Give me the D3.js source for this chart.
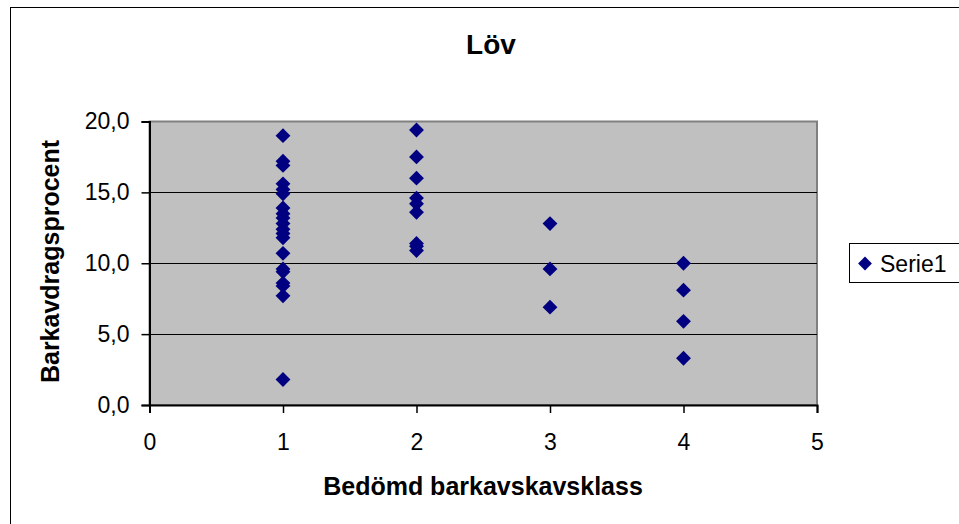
<!DOCTYPE html>
<html><head><meta charset="utf-8">
<script src="https://cdn.jsdelivr.net/npm/d3@7"></script>
<style>body{margin:0;background:#fff}svg{display:block;font-family:Arial,"Liberation Sans",sans-serif}</style>
</head><body><svg id="c" width="959" height="524"></svg>
<script>
const title = "Löv";
const xTitle = "Bedömd barkavskavsklass";
const yTitle = "Barkavdragsprocent";
const seriesName = "Serie1";
const class1 = [19.0, 17.2, 16.9, 15.6, 15.2, 14.9, 13.9, 13.5, 13.2, 12.8, 12.4, 12.1, 11.8, 10.7, 9.6, 9.4, 8.6, 8.4, 7.7, 1.8];
const class2 = [19.4, 17.5, 16.0, 14.6, 14.2, 13.6, 11.4, 11.2, 10.9];
const class3 = [12.8, 9.6, 6.9];
const class4 = [10.0, 8.1, 5.9, 3.3];
const xTicks = [0, 1, 2, 3, 4, 5];
const yTicks = [0, 5, 10, 15, 20];

const points = [];
[[1, class1], [2, class2], [3, class3], [4, class4]].forEach(([k, arr]) => arr.forEach(v => points.push({x: k, y: v})));

const FONT = "Arial,'Liberation Sans',sans-serif";
const svg = d3.select("#c");
const L = 149.5, R = 817, T = 121.5, B = 405;
const x = d3.scaleLinear().domain([0, 5]).range([L, R]);
const y = d3.scaleLinear().domain([0, 20]).range([B, T]);

svg.append("rect").attr("x", 10.5).attr("y", 7.5).attr("width", 960).attr("height", 530)
  .attr("fill", "#fff").attr("stroke", "#000").attr("stroke-width", 1);

svg.append("text").attr("x", 491).attr("y", 54).attr("text-anchor", "middle")
  .attr("font-weight", "bold").attr("font-size", 28).text(title);

svg.append("rect").attr("x", L).attr("y", T).attr("width", R - L).attr("height", B - T)
  .attr("fill", "#C0C0C0").attr("stroke", "#808080").attr("stroke-width", 2);

svg.append("g").selectAll("line").data(yTicks.filter(d => d > 0 && d < 20)).join("line")
  .attr("x1", L).attr("x2", R).attr("y1", d => Math.round(y(d)) + 0.5).attr("y2", d => Math.round(y(d)) + 0.5)
  .attr("stroke", "#000");

const fmt = d => d3.format(".1f")(d).replace(".", ",");
const ya = svg.append("g").attr("transform", `translate(${L},0)`)
  .call(d3.axisLeft(y).tickValues(yTicks).tickFormat(fmt).tickSize(8).tickPadding(12));
const xa = svg.append("g").attr("transform", `translate(0,${B})`)
  .call(d3.axisBottom(x).tickValues(xTicks).tickFormat(d3.format("d")).tickSize(8).tickPadding(21));
[ya, xa].forEach(g => {
  g.attr("font-size", 23).attr("font-family", FONT);
  g.selectAll("text").attr("fill", "#000");
  g.select(".domain").attr("stroke", "#000").attr("stroke-width", 2);
  g.selectAll(".tick line").attr("stroke", "#000").attr("stroke-width", 1.5);
});

svg.append("g").selectAll("path").data(points).join("path")
  .attr("d", d3.symbol().type(d3.symbolSquare).size(110))
  .attr("transform", d => `translate(${x(d.x)},${y(d.y)}) rotate(45)`)
  .attr("fill", "#000080");

svg.append("text").attr("x", 483).attr("y", 495).attr("text-anchor", "middle")
  .attr("font-weight", "bold").attr("font-size", 25).text(xTitle);
svg.append("text").attr("transform", "translate(59,261.5) rotate(-90)").attr("text-anchor", "middle")
  .attr("font-weight", "bold").attr("font-size", 25).text(yTitle);

const lg = svg.append("g");
lg.append("rect").attr("x", 849.5).attr("y", 243.5).attr("width", 120).attr("height", 39)
  .attr("fill", "#fff").attr("stroke", "#000");
lg.append("path").attr("d", d3.symbol().type(d3.symbolSquare).size(95))
  .attr("transform", "translate(865,263.5) rotate(45)").attr("fill", "#000080");
lg.append("text").attr("x", 880).attr("y", 272).attr("font-size", 23).attr("font-family", FONT).text(seriesName);
</script></body></html>
